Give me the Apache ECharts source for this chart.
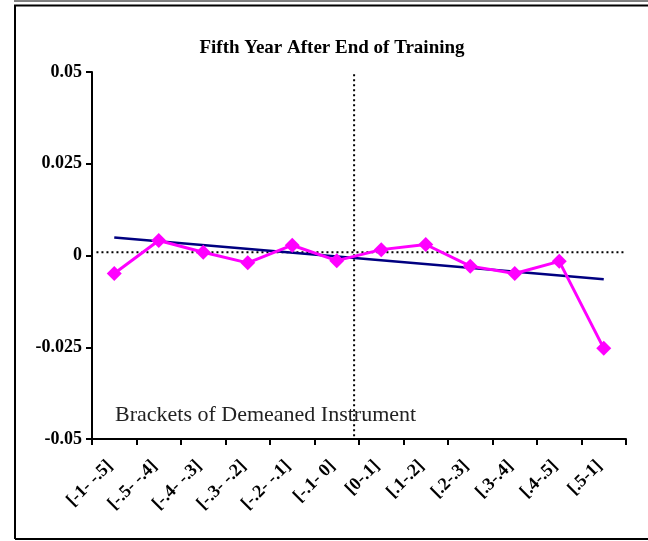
<!DOCTYPE html>
<html>
<head>
<meta charset="utf-8">
<script src="https://cdn.jsdelivr.net/npm/echarts@6/dist/echarts.min.js"></script>
<style>
  html, body { margin: 0; padding: 0; background: #fff; }
  #chart { width: 648px; height: 541px; }
</style>
</head>
<body>
<div id="chart"></div>
<script>
// brackets of the demeaned instrument
const categories = ['[-1- -.5]', '[-.5- -.4]', '[-.4- -.3]', '[-.3- -.2]', '[-.2- -.1]', '[-.1- 0]',
  '[0-.1]', '[.1-.2]', '[.2-.3]', '[.3-.4]', '[.4-.5]', '[.5-1]']
// estimated effect per bracket
const effects = [-0.0049, 0.0041, 0.0009, -0.0020, 0.0028, -0.0014, 0.0016, 0.0030, -0.0029, -0.0049, -0.0016, -0.0253]
// linear fit, ends at first and last bracket centre (x in bracket units)
const trendLine = [[0.5, 0.0049], [11.5, -0.00645]]
// dotted reference lines
const zeroRef = [[0.1, 0.0009], [12, 0.0009]]
const vertRef = [[5.89, 0.0494], [5.89, -0.05]]
const yTicks = { min: -0.05, max: 0.05, interval: 0.025 }

const serif = '"Liberation Serif", "DejaVu Serif", serif'
const chart = echarts.init(document.getElementById('chart'))

const dotted = {
  type: 'line',
  xAxisIndex: 1,
  symbol: 'none',
  silent: true,
  lineStyle: { color: '#000', width: 2, type: [2, 3] },
  z: 1
}

chart.setOption({
  animation: false,
  title: {
    text: 'Fifth Year After End of Training',
    left: 327,
    textAlign: 'center',
    top: 34,
    textStyle: { fontFamily: serif, fontSize: 19, fontWeight: 'bold', color: '#000' }
  },
  graphic: [
    { type: 'line', shape: { x1: 14, y1: 1, x2: 648, y2: 1 }, style: { stroke: '#000', lineWidth: 1 } },
    { type: 'line', shape: { x1: 14, y1: 5.5, x2: 648, y2: 5.5 }, style: { stroke: '#000', lineWidth: 2 } },
    { type: 'line', shape: { x1: 15, y1: 5, x2: 15, y2: 539 }, style: { stroke: '#000', lineWidth: 2 } },
    { type: 'line', shape: { x1: 15, y1: 539, x2: 648, y2: 539 }, style: { stroke: '#000', lineWidth: 2 } },
    {
      type: 'text', left: 115, top: 404,
      style: { text: 'Brackets of Demeaned Instrument', font: '22px ' + serif, fill: '#222' }
    }
  ],
  grid: { left: 92, right: 22, top: 72, bottom: 102 },
  xAxis: [
    {
      type: 'category',
      data: categories,
      boundaryGap: true,
      position: 'bottom',
      axisLine: { onZero: false, lineStyle: { color: '#000', width: 2 } },
      axisTick: { show: true, length: 6, lineStyle: { color: '#000', width: 2 } },
      axisLabel: {
        rotate: 45, margin: 20, interval: 0, padding: [0, 6, 0, 0],
        fontFamily: serif, fontSize: 18, fontWeight: 'bold', color: '#000'
      },
      splitLine: { show: false }
    },
    { type: 'value', min: 0, max: 12, show: false }
  ],
  yAxis: {
    type: 'value',
    min: yTicks.min, max: yTicks.max, interval: yTicks.interval,
    axisLine: { show: true, lineStyle: { color: '#000', width: 2 } },
    axisTick: { show: true, length: 6, lineStyle: { color: '#000', width: 2 } },
    axisLabel: { margin: 10, fontFamily: serif, fontSize: 18, fontWeight: 'bold', color: '#000' },
    splitLine: { show: false }
  },
  series: [
    Object.assign({}, dotted, { data: zeroRef }),
    Object.assign({}, dotted, { data: vertRef }),
    {
      type: 'line',
      xAxisIndex: 1,
      data: trendLine,
      symbol: 'none',
      lineStyle: { color: '#000080', width: 2.5 },
      z: 2
    },
    {
      type: 'line',
      data: effects,
      symbol: 'diamond',
      symbolSize: 15,
      itemStyle: { color: '#FF00FF' },
      lineStyle: { color: '#FF00FF', width: 3 },
      z: 3
    }
  ]
})
</script>
</body>
</html>
